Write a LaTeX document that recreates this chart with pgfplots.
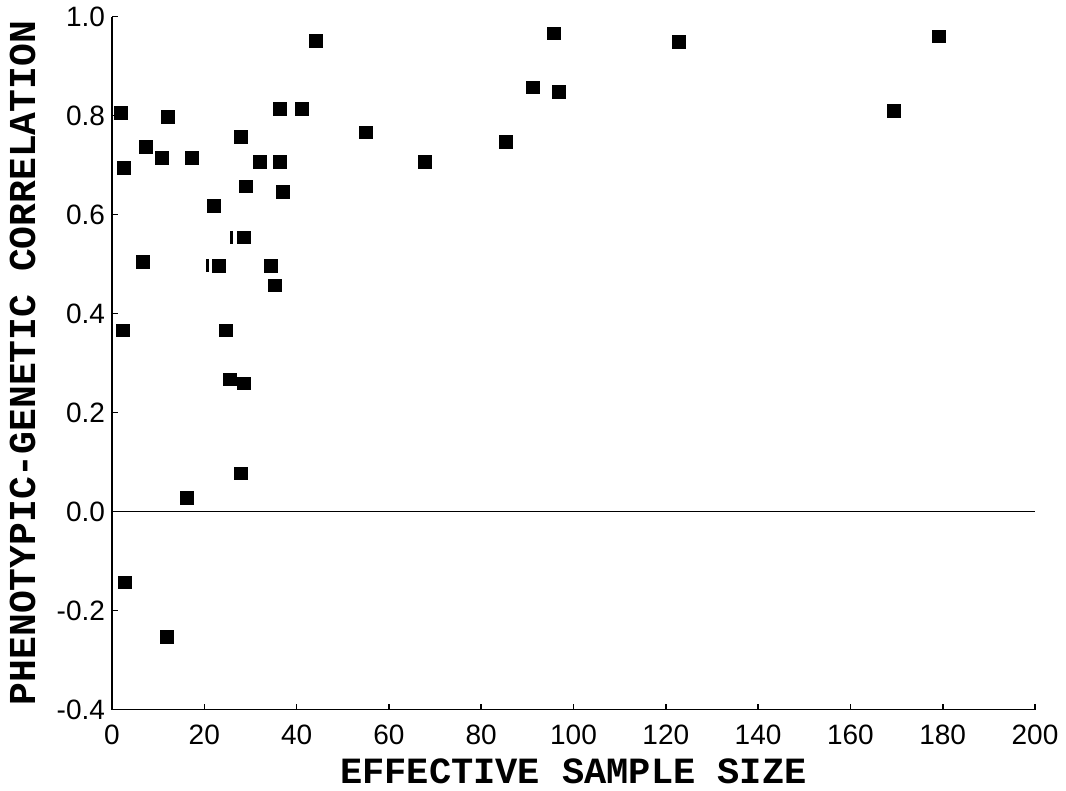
\documentclass[border=0pt]{standalone}
\usepackage{fontspec}
\setmainfont{Liberation Sans}
\newfontfamily\labfont{Liberation Mono}
\usepackage{pgfplots}
\pgfplotsset{compat=1.18}

% effective sample size vs phenotypic-genetic correlation
\pgfplotstableread{
n     r
1.9   0.806
2.6   0.695
2.4   0.366
2.8   -0.143
7.4   0.737
6.7   0.505
10.8  0.715
12.1  0.798
11.9  -0.254
17.3  0.715
16.3  0.028
22.1  0.617
23.2  0.497
24.7  0.366
25.6  0.267
27.9  0.757
28.0  0.077
28.6  0.554
28.6  0.259
29.0  0.657
32.1  0.707
34.5  0.497
35.3  0.457
36.4  0.814
36.4  0.707
37.1  0.646
41.2  0.814
44.2  0.950
55.0  0.766
67.8  0.707
85.4  0.747
91.2  0.857
95.8  0.966
96.9  0.847
122.9 0.948
169.4 0.810
179.2 0.960
}\pts

\begin{document}
\begin{tikzpicture}
\begin{axis}[
    name=ax,
    width=461.5bp, height=346.5bp, scale only axis,
    xmin=0, xmax=200, ymin=-0.4, ymax=1.0,
    axis lines=left,
    axis line style={-, line width=0.9bp},
    tick align=inside,
    major tick length=3bp,
    tick style={black, line width=0.8bp},
    xtick={0,20,40,60,80,100,120,140,160,180,200},
    ytick={-0.4,-0.2,0,0.2,0.4,0.6,0.8,1.0},
    /pgf/number format/assume math mode=true,
    yticklabel style={/pgf/number format/fixed, /pgf/number format/fixed zerofill,
        /pgf/number format/precision=1},
    tick label style={font=\fontsize{14bp}{16bp}\selectfont},
    xticklabel style={yshift=-4bp},
    xlabel={EFFECTIVE SAMPLE SIZE},
    ylabel={PHENOTYPIC-GENETIC CORRELATION},
    xlabel style={font=\fontsize{18.5bp}{22bp}\labfont\bfseries,
        at={(axis description cs:0.5,-0.1068)}, anchor=base},
    ylabel style={font=\fontsize{19bp}{22bp}\labfont\bfseries,
        at={(axis description cs:-0.0834,0.5)}, anchor=base},
]
\addplot[black, line width=0.7bp] coordinates {(0,0) (200,0)};
\addplot[only marks, mark=square*, mark size=3.2bp, black] table[x=n, y=r] {\pts};
% thin slivers of overprinted marks
\addplot[only marks, mark=|, mark size=3.2bp, line width=1.5bp, black]
    coordinates {(20.6,0.497) (26.0,0.554)};
\end{axis}
\path ([shift={(-56bp,-40bp)}]ax.south west) rectangle ([shift={(15.5bp,8bp)}]ax.north east);
\end{tikzpicture}
\end{document}
